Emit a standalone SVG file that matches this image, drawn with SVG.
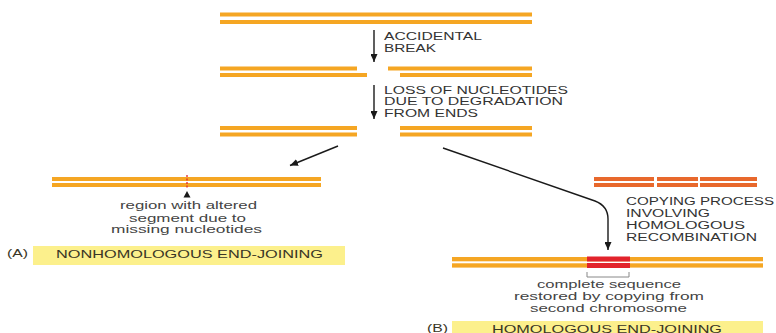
<svg xmlns="http://www.w3.org/2000/svg" width="776" height="333" viewBox="0 0 776 333">
<style>
.s{fill:#F5A623}
.s2{fill:#E8682C}
.r{fill:#E2232B}
.cap{font-family:"Liberation Sans",Arial,sans-serif;font-size:10px;fill:#333}
.low{font-family:"Liberation Sans",Arial,sans-serif;font-size:11px;fill:#444}
.lab{font-family:"Liberation Sans",Arial,sans-serif;font-size:10.5px;fill:#3a3626}
.box{fill:#FCF08C}
.ar{fill:none;stroke:#1a1a1a;stroke-width:1.4}
</style>
<defs>
<marker id="ah" viewBox="0 0 8 7" refX="8" refY="3.5" markerWidth="8" markerHeight="7" markerUnits="userSpaceOnUse" orient="auto">
<path d="M0,0 L8,3.5 L0,7 z" fill="#1a1a1a"/>
</marker>
</defs>
<rect width="776" height="333" fill="#fff"/>

<g id="dna-intact">
<rect class="s" x="220" y="12.5" width="312" height="4"/>
<rect class="s" x="220" y="20" width="312" height="4"/>
</g>

<g id="dna-broken">
<rect class="s" x="220" y="66.5" width="137" height="4"/>
<rect class="s" x="388" y="66.5" width="144" height="4"/>
<rect class="s" x="220" y="73" width="147" height="4"/>
<rect class="s" x="400" y="73" width="132" height="4"/>
</g>

<g id="dna-degraded">
<rect class="s" x="220" y="126" width="137" height="4"/>
<rect class="s" x="400" y="126" width="132" height="4"/>
<rect class="s" x="220" y="132.5" width="137" height="4"/>
<rect class="s" x="400" y="132.5" width="132" height="4"/>
</g>

<g id="nhej-product">
<rect class="s" x="52" y="177" width="269" height="4"/>
<rect class="s" x="52" y="183" width="269" height="4"/>
<line x1="187" y1="175" x2="187" y2="188.5" stroke="#E2232B" stroke-width="1.3" stroke-dasharray="2,1.5"/>
<path d="M187,191 L190.5,197.5 L183.5,197.5 z" fill="#1a1a1a"/>
<text class="low" x="120" y="209" textLength="137" lengthAdjust="spacingAndGlyphs">region with altered</text>
<text class="low" x="129" y="222" textLength="117" lengthAdjust="spacingAndGlyphs">segment due to</text>
<text class="low" x="111" y="233" textLength="151" lengthAdjust="spacingAndGlyphs">missing nucleotides</text>
</g>

<g id="label-a">
<text class="lab" x="7" y="257" textLength="21" lengthAdjust="spacingAndGlyphs">(A)</text>
<rect class="box" x="33" y="246" width="312" height="19"/>
<text class="lab" x="56" y="257.5" textLength="267" lengthAdjust="spacingAndGlyphs">NONHOMOLOGOUS END-JOINING</text>
</g>

<g id="homologous-template">
<rect class="s2" x="594" y="177" width="60" height="4"/>
<rect class="s2" x="657" y="177" width="41" height="4"/>
<rect class="s2" x="700" y="177" width="57" height="4"/>
<rect class="s2" x="594" y="183" width="60" height="4"/>
<rect class="s2" x="657" y="183" width="41" height="4"/>
<rect class="s2" x="700" y="183" width="57" height="4"/>
<text class="cap" x="626" y="205" textLength="148" lengthAdjust="spacingAndGlyphs">COPYING PROCESS</text>
<text class="cap" x="626" y="217" textLength="84" lengthAdjust="spacingAndGlyphs">INVOLVING</text>
<text class="cap" x="626" y="228.5" textLength="119" lengthAdjust="spacingAndGlyphs">HOMOLOGOUS</text>
<text class="cap" x="626" y="241" textLength="131" lengthAdjust="spacingAndGlyphs">RECOMBINATION</text>
</g>

<g id="hej-product">
<rect class="s" x="452" y="257" width="311" height="4.3"/>
<rect class="s" x="452" y="263.3" width="311" height="4.3"/>
<rect class="r" x="587" y="256.5" width="43" height="5"/>
<rect class="r" x="587" y="263" width="43" height="5"/>
<path d="M587,272 V277 H629 V272" fill="none" stroke="#888" stroke-width="1"/>
<text class="low" x="537" y="288" textLength="144" lengthAdjust="spacingAndGlyphs">complete sequence</text>
<text class="low" x="514" y="300" textLength="190" lengthAdjust="spacingAndGlyphs">restored by copying from</text>
<text class="low" x="530" y="312" textLength="157" lengthAdjust="spacingAndGlyphs">second chromosome</text>
</g>

<g id="label-b">
<text class="lab" x="427" y="332" textLength="21" lengthAdjust="spacingAndGlyphs">(B)</text>
<rect class="box" x="452" y="321" width="311" height="19"/>
<text class="lab" x="492" y="332.5" textLength="230" lengthAdjust="spacingAndGlyphs">HOMOLOGOUS END-JOINING</text>
</g>

<g id="step-labels">
<text class="cap" x="384" y="40" textLength="98" lengthAdjust="spacingAndGlyphs">ACCIDENTAL</text>
<text class="cap" x="384" y="51.5" textLength="52" lengthAdjust="spacingAndGlyphs">BREAK</text>
<text class="cap" x="384" y="93.5" textLength="184" lengthAdjust="spacingAndGlyphs">LOSS OF NUCLEOTIDES</text>
<text class="cap" x="384" y="105" textLength="179" lengthAdjust="spacingAndGlyphs">DUE TO DEGRADATION</text>
<text class="cap" x="384" y="117" textLength="94" lengthAdjust="spacingAndGlyphs">FROM ENDS</text>
</g>

<g id="connectors">
<path class="ar" d="M374,30 V62" marker-end="url(#ah)"/>
<path class="ar" d="M374,85 V119" marker-end="url(#ah)"/>
<path class="ar" d="M338,146 L290,165.5" marker-end="url(#ah)"/>
<path class="ar" d="M443,148 L595,201 Q608,206 608,219 V250" marker-end="url(#ah)"/>
</g>
</svg>
